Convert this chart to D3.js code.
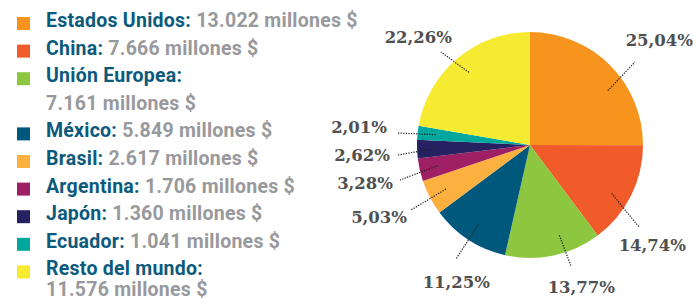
<!DOCTYPE html>
<html>
<head>
<meta charset="utf-8">
<script src="https://cdn.jsdelivr.net/npm/d3@7"></script>
<style>
  body { margin: 0; background: #fff; }
  svg { display: block; }
</style>
</head>
<body>
<svg></svg>
<script>
let width = 693, height = 304;

// data
const countries = ["Estados Unidos", "China", "Unión Europea", "México", "Brasil",
                   "Argentina", "Japón", "Ecuador", "Resto del mundo"];
const amounts = [13022, 7666, 7161, 5849, 2617, 1706, 1360, 1041, 11576];
const percents = [25.04, 14.74, 13.77, 11.25, 5.03, 3.28, 2.62, 2.01, 22.26];
const colors = ["#f7941d", "#f15a29", "#8dc63f", "#00587c", "#fbb040",
                "#9e1f63", "#262262", "#00a79d", "#f6eb31"];

// legend entries whose amount goes on a second line
const wrapped = ["Unión Europea", "Resto del mundo"];

// label placement, relative to pie centre: line end (lx,ly), text (tx,ty)
const labelPos = [
  { da: 10, lx: 105, ly: -83, tx: 163, ty: -99, anchor: "end" },
  { da: 4, lx: 109, ly: 82, tx: 156, ty: 106, anchor: "end" },
  { da: -6, lx: 41, ly: 121, tx: 85, ty: 148, anchor: "end" },
  { da: 0, lx: -74, ly: 114, tx: -40, ty: 143, anchor: "end" },
  { da: 0, lx: -119, ly: 65, tx: -123, ty: 78, anchor: "end" },
  { da: 0, lx: -130, ly: 35, tx: -137, ty: 44, anchor: "end" },
  { da: 0, lx: -132, ly: 10, tx: -140, ty: 16, anchor: "end" },
  { da: 0, lx: -133, ly: -12, tx: -143, ty: -12, anchor: "end" },
  { da: 0, lx: -89, ly: -93, tx: -78, ty: -102, anchor: "end" }
];

const locale = d3.formatLocale({ decimal: ",", thousands: ".", grouping: [3], currency: ["", " $"] });
const fmtAmount = locale.format(",d");
const fmtPct = locale.format(".2f");

let svg = d3.select("svg")
    .attr("width", width)
    .attr("height", height)
    .attr("viewBox", "0 0 " + width + " " + height);

let legendFont = "Roboto, sans-serif";
let legendSize = "19.5px";

// Legend
let legend = svg.append("g").attr("id", "legend")
    .style("letter-spacing", "0.25px");
let y0 = 27, step = 27.6;
let row = 0;
countries.forEach((c, i) => {
    let y = y0 + row * step;
    legend.append("rect")
        .attr("x", 17).attr("y", y - 10)
        .attr("width", 13).attr("height", 13)
        .attr("fill", colors[i]);

    let t = legend.append("text")
        .attr("x", 46).attr("y", y)
        .style("font-family", legendFont)
        .style("font-weight", 700)
        .style("font-size", legendSize);
    t.append("tspan").attr("fill", "#0b5a7c").text(c + ": ");

    let amountText = fmtAmount(amounts[i]) + " millones $";
    if (wrapped.includes(c)) {
        let dy = (i === countries.length - 1) ? 21 : step;
        legend.append("text")
            .attr("x", 46).attr("y", y + dy)
            .style("font-family", legendFont)
            .style("font-weight", 700)
            .style("font-size", legendSize)
            .attr("fill", "#98999c")
            .text(amountText);
        row += 2;
    } else {
        t.append("tspan").attr("fill", "#98999c").text(amountText);
        row += 1;
    }
});

// Pie
let cx = 530, cy = 145, r = 113;
let pie = d3.pie().sort(null).value(d => d);
let arcs = pie(percents);
let arc = d3.arc().innerRadius(0).outerRadius(r);

let g = svg.append("g").attr("transform", "translate(" + cx + "," + cy + ")");

g.selectAll("path.slice")
    .data(arcs)
    .enter()
    .append("path")
    .attr("class", "slice")
    .attr("d", arc)
    .attr("fill", (d, i) => colors[i]);

// leader lines from inside each slice
g.selectAll("line.leader")
    .data(arcs)
    .enter()
    .append("line")
    .attr("class", "leader")
    .attr("x1", (d, i) => {
        let a = (d.startAngle + d.endAngle) / 2 + labelPos[i].da * Math.PI / 180;
        return Math.sin(a) * r * 0.84;
    })
    .attr("y1", (d, i) => {
        let a = (d.startAngle + d.endAngle) / 2 + labelPos[i].da * Math.PI / 180;
        return -Math.cos(a) * r * 0.84;
    })
    .attr("x2", (d, i) => labelPos[i].lx)
    .attr("y2", (d, i) => labelPos[i].ly)
    .attr("stroke", "#222")
    .attr("stroke-width", 1.2)
    .attr("stroke-dasharray", "1.3,1.3");

g.selectAll("text.pct")
    .data(arcs)
    .enter()
    .append("text")
    .attr("class", "pct")
    .attr("x", (d, i) => labelPos[i].tx)
    .attr("y", (d, i) => labelPos[i].ty)
    .attr("text-anchor", (d, i) => labelPos[i].anchor)
    .style("font-family", "'DejaVu Serif', serif")
    .style("font-weight", 700)
    .style("font-size", "16.5px")
    .attr("fill", "#505050")
    .text(d => fmtPct(d.data) + "%");
</script>
</body>
</html>
